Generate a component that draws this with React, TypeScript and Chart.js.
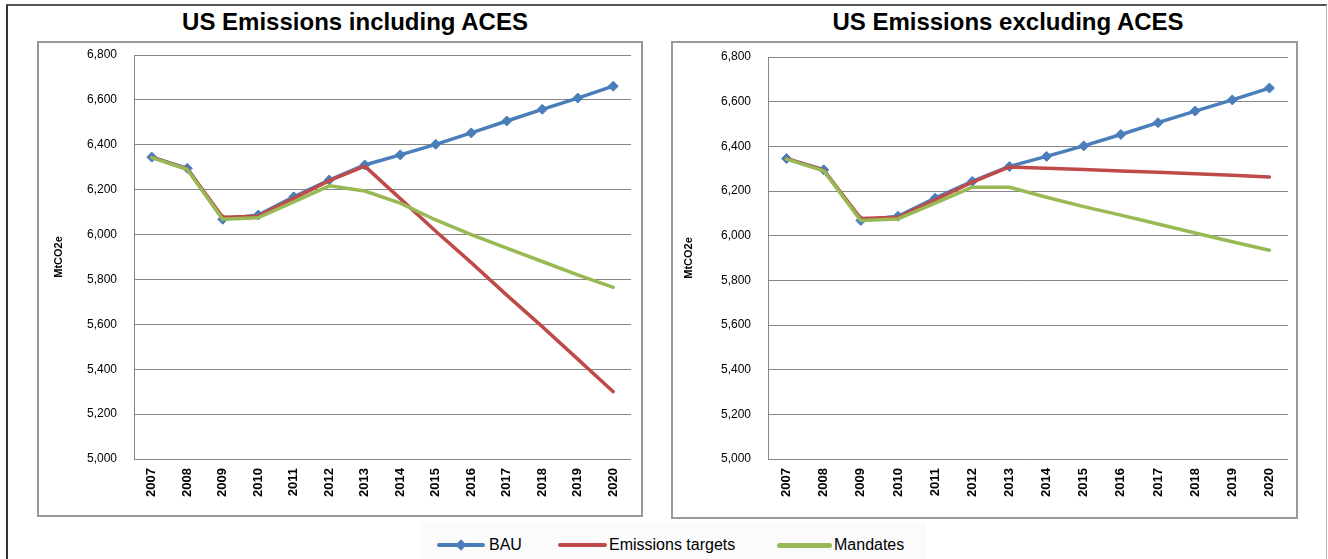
import React, { useEffect, useRef } from "react";
import { Chart, registerables } from "chart.js";

Chart.register(...registerables);

// ---- data ----
const years = ["2007", "2008", "2009", "2010", "2011", "2012", "2013", "2014", "2015", "2016", "2017", "2018", "2019", "2020"];
const bau = [6345, 6295, 6068, 6087, 6168, 6243, 6310, 6355, 6402, 6453, 6506, 6558, 6608, 6661];
const targetsIncl = [6345, 6293, 6077, 6082, 6161, 6240, 6305, 6160, 6015, 5875, 5730, 5590, 5445, 5300];
const mandatesIncl = [6343, 6290, 6068, 6075, 6146, 6217, 6194, 6140, 6065, 6000, 5940, 5880, 5820, 5765];
const targetsExcl = [6345, 6293, 6077, 6082, 6161, 6240, 6308, 6302, 6296, 6290, 6284, 6277, 6270, 6263];
const mandatesExcl = [6343, 6290, 6068, 6075, 6146, 6217, 6217, 6172, 6130, 6092, 6052, 6012, 5973, 5935];
const yMin = 5000;
const yMax = 6800;
const yStep = 200;
const titleIncl = "US Emissions including ACES";
const titleExcl = "US Emissions excluding ACES";
const yTitle = "MtCO2e";
const seriesNames = ["BAU", "Emissions targets", "Mandates"];

const BLUE = "#4A7EBB";
const RED = "#BE4B48";
const GREEN = "#98B954";
const GRID = "#868686";
const FONT = '"Liberation Sans", Arial, sans-serif';
const NARROW = '"Liberation Sans Narrow", "Liberation Sans", Arial, sans-serif';

type Props = {
  targets: number[];
  mandates: number[];
  left: number;
  top: number;
  width: number;
  height: number;
  pad: { left: number; right: number; top: number; bottom: number };
  yWidth: number;
  xHeight: number;
};

function LineChart(p: Props) {
  const ref = useRef<HTMLCanvasElement>(null);
  useEffect(() => {
    const chart = new Chart(ref.current!, {
      type: "line",
      data: {
        labels: years,
        datasets: [
          {
            label: seriesNames[0],
            data: bau,
            borderColor: BLUE,
            backgroundColor: BLUE,
            borderWidth: 3.5,
            pointStyle: "rectRot",
            pointRadius: 5,
            pointBorderWidth: 1,
            borderCapStyle: "round",
            borderJoinStyle: "round",
            tension: 0,
            order: 2,
          },
          {
            label: seriesNames[1],
            data: p.targets,
            borderColor: RED,
            backgroundColor: RED,
            borderWidth: 3.5,
            pointRadius: 0,
            borderCapStyle: "round",
            borderJoinStyle: "round",
            tension: 0,
            order: 1,
          },
          {
            label: seriesNames[2],
            data: p.mandates,
            borderColor: GREEN,
            backgroundColor: GREEN,
            borderWidth: 3.5,
            pointRadius: 0,
            borderCapStyle: "round",
            borderJoinStyle: "round",
            tension: 0,
            order: 0,
          },
        ],
      },
      options: {
        animation: false,
        responsive: false,
        devicePixelRatio: 1,
        layout: { padding: p.pad },
        plugins: { legend: { display: false }, tooltip: { enabled: false }, title: { display: false } },
        scales: {
          x: {
            type: "category",
            offset: true,
            grid: { display: false, drawTicks: false },
            border: { display: false },
            ticks: {
              autoSkip: false,
              maxRotation: 90,
              minRotation: 90,
              padding: 9,
              color: "#000",
              font: { family: FONT, size: 13, weight: "bold" },
            },
            afterFit: (s: any) => {
              s.height = p.xHeight;
            },
          },
          y: {
            min: yMin,
            max: yMax,
            ticks: {
              stepSize: yStep,
              padding: 0,
              color: "#000",
              font: { family: NARROW, size: 12 },
              callback: (v: any) => Number(v).toLocaleString("en-US"),
            },
            grid: { color: GRID, lineWidth: 1, drawTicks: true, tickLength: 17, tickColor: "rgba(0,0,0,0)" },
            border: { display: true, color: GRID, width: 1 },
            title: {
              display: true,
              text: yTitle,
              color: "#000",
              padding: { top: 0, bottom: 0 },
              font: { family: FONT, size: 11, weight: "bold" },
            },
            afterFit: (s: any) => {
              s.width = p.yWidth;
            },
          },
        },
      },
    } as any);
    return () => chart.destroy();
  }, []);
  return (
    <canvas
      ref={ref}
      width={p.width}
      height={p.height}
      style={{ position: "absolute", left: p.left, top: p.top, width: p.width, height: p.height }}
    />
  );
}

function LegendItem({ x, lineW, color, text, textX, diamond, thick }: any) {
  return (
    <>
      <div
        style={{
          position: "absolute",
          left: x,
          top: 545 - thick / 2,
          width: lineW,
          height: thick,
          background: color,
          borderRadius: thick / 2,
        }}
      />
      {diamond && (
        <div
          style={{
            position: "absolute",
            left: x + lineW / 2 - 4,
            top: 541,
            width: 8,
            height: 8,
            background: color,
            transform: "rotate(45deg)",
          }}
        />
      )}
      <div
        style={{
          position: "absolute",
          left: textX,
          top: 535,
          lineHeight: "20px",
          fontSize: 16,
          fontFamily: NARROW,
          color: "#000",
          whiteSpace: "nowrap",
        }}
      >
        {text}
      </div>
    </>
  );
}

export default function App() {
  const titleStyle: React.CSSProperties = {
    position: "absolute",
    top: 8,
    width: 420,
    textAlign: "center",
    fontFamily: FONT,
    fontWeight: "bold",
    fontSize: 24,
    lineHeight: "28px",
    color: "#000",
    whiteSpace: "nowrap",
  };
  return (
    <div
      style={{
        position: "absolute",
        left: 0,
        top: 0,
        width: 1328,
        height: 559,
        background: "#fff",
        overflow: "hidden",
      }}
    >
      <div
        style={{
          position: "absolute",
          left: 6,
          top: 4,
          width: 1321,
          height: 600,
          boxSizing: "border-box",
          borderLeft: "2px solid #333",
          borderTop: "2px solid #555",
          borderRight: "1px solid #bbb",
        }}
      />
      <div style={{ position: "absolute", left: 420, top: 522, width: 506, height: 40, background: "#fbfbfb" }} />
      <div style={{ ...titleStyle, left: 355 - 210 }}>{titleIncl}</div>
      <div style={{ ...titleStyle, left: 1008 - 210 }}>{titleExcl}</div>
      <div
        style={{
          position: "absolute",
          left: 37,
          top: 41,
          width: 606,
          height: 476,
          boxSizing: "border-box",
          border: "2px solid #999",
        }}
      />
      <div
        style={{
          position: "absolute",
          left: 671,
          top: 41,
          width: 627,
          height: 478,
          boxSizing: "border-box",
          border: "2px solid #999",
        }}
      />
      <LineChart
        targets={targetsIncl}
        mandates={mandatesIncl}
        left={39}
        top={43}
        width={602}
        height={472}
        pad={{ left: 13, right: 10, top: 12, bottom: 0 }}
        yWidth={82}
        xHeight={56}
      />
      <LineChart
        targets={targetsExcl}
        mandates={mandatesExcl}
        left={673}
        top={43}
        width={623}
        height={474}
        pad={{ left: 9, right: 8, top: 14, bottom: 0 }}
        yWidth={86}
        xHeight={58}
      />
      <LegendItem x={437} lineW={48} color={BLUE} text={seriesNames[0]} textX={489} diamond thick={4} />
      <LegendItem x={558} lineW={49} color={RED} text={seriesNames[1]} textX={609} thick={4} />
      <LegendItem x={777} lineW={55} color={GREEN} text={seriesNames[2]} textX={834} thick={5} />
    </div>
  );
}
